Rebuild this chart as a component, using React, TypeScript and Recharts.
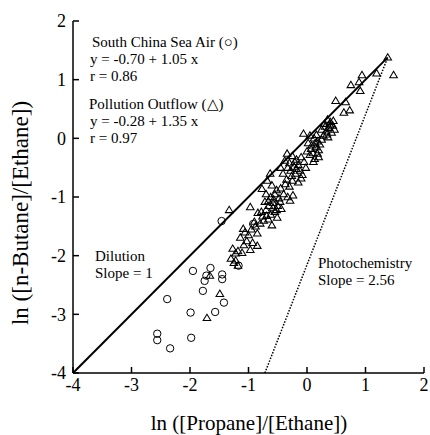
import React from 'react';
import {
  ScatterChart,
  Scatter,
  XAxis,
  YAxis,
  ReferenceLine,
  Customized,
} from 'recharts';

// ln([Propane]/[Ethane]) vs ln([n-Butane]/[Ethane])
const axisTicks = [-4, -3, -2, -1, 0, 1, 2];

// South China Sea Air (circles)
const southChinaSea = [
  { x: -1.46, y: -1.41 },
  { x: -0.92, y: -1.46 },
  { x: -1.95, y: -2.26 },
  { x: -1.65, y: -2.21 },
  { x: -1.72, y: -2.34 },
  { x: -1.75, y: -2.43 },
  { x: -1.45, y: -2.32 },
  { x: -1.45, y: -2.4 },
  { x: -1.17, y: -2.17 },
  { x: -1.78, y: -2.6 },
  { x: -2.39, y: -2.74 },
  { x: -1.42, y: -2.8 },
  { x: -1.99, y: -2.97 },
  { x: -1.57, y: -2.96 },
  { x: -2.56, y: -3.33 },
  { x: -2.56, y: -3.44 },
  { x: -1.98, y: -3.4 },
  { x: -2.34, y: -3.58 },
];

// Pollution Outflow (triangles)
const pollutionOutflow = [
  { x: 1.38, y: 1.38 }, { x: 1.48, y: 1.08 }, { x: 1.19, y: 1.11 }, { x: 0.94, y: 1.08 },
  { x: 0.75, y: 0.91 }, { x: 0.89, y: 0.96 }, { x: 0.91, y: 0.81 }, { x: 0.49, y: 0.64 },
  { x: 0.66, y: 0.62 }, { x: 0.63, y: 0.44 }, { x: 0.73, y: 0.48 },
  { x: 0.35, y: 0.32 }, { x: 0.4, y: 0.28 }, { x: 0.44, y: 0.22 }, { x: 0.38, y: 0.18 },
  { x: 0.47, y: 0.15 }, { x: 0.3, y: 0.25 }, { x: 0.33, y: 0.12 }, { x: 0.42, y: 0.1 },
  { x: 0.28, y: 0.05 }, { x: 0.36, y: 0.02 }, { x: 0.25, y: 0.15 }, { x: 0.45, y: 0.3 },
  { x: 0.31, y: 0.2 }, { x: 0.39, y: 0.24 }, { x: 0.34, y: 0.07 },
  { x: -0.06, y: 0.08 }, { x: 0.05, y: 0.05 }, { x: 0.12, y: 0.0 }, { x: 0.18, y: -0.05 },
  { x: 0.22, y: -0.1 }, { x: 0.15, y: -0.15 }, { x: 0.2, y: -0.2 }, { x: 0.1, y: -0.25 },
  { x: 0.08, y: -0.12 }, { x: 0.25, y: -0.02 }, { x: 0.16, y: 0.06 }, { x: 0.02, y: -0.08 },
  { x: 0.13, y: -0.35 }, { x: 0.2, y: -0.32 }, { x: 0.05, y: -0.28 }, { x: 0.0, y: -0.22 },
  { x: 0.14, y: -0.08 }, { x: 0.18, y: -0.26 }, { x: 0.07, y: -0.18 }, { x: 0.11, y: -0.4 },
  { x: -0.34, y: -0.26 }, { x: -0.25, y: -0.3 }, { x: -0.18, y: -0.36 }, { x: -0.1, y: -0.32 },
  { x: -0.15, y: -0.45 }, { x: -0.22, y: -0.48 }, { x: -0.05, y: -0.4 }, { x: -0.3, y: -0.42 },
  { x: -0.12, y: -0.55 }, { x: -0.2, y: -0.6 }, { x: -0.08, y: -0.62 }, { x: -0.28, y: -0.55 },
  { x: -0.41, y: -0.6 }, { x: -0.35, y: -0.7 }, { x: -0.25, y: -0.72 }, { x: -0.15, y: -0.75 },
  { x: -0.3, y: -0.82 }, { x: -0.45, y: -0.5 }, { x: -0.02, y: -0.5 }, { x: -0.38, y: -0.38 },
  { x: -0.18, y: -0.52 }, { x: -0.26, y: -0.64 }, { x: -0.33, y: -0.5 }, { x: -0.21, y: -0.4 },
  { x: -0.1, y: -0.68 }, { x: -0.37, y: -0.78 },
  { x: -0.63, y: -0.6 }, { x: -0.77, y: -0.86 },
  { x: -0.68, y: -0.72 }, { x: -0.6, y: -0.8 }, { x: -0.52, y: -0.88 }, { x: -0.45, y: -0.85 },
  { x: -0.55, y: -0.95 }, { x: -0.62, y: -1.0 }, { x: -0.48, y: -1.02 }, { x: -0.4, y: -0.95 },
  { x: -0.33, y: -1.0 }, { x: -0.29, y: -1.06 }, { x: -0.24, y: -0.97 }, { x: -0.7, y: -0.95 },
  { x: -0.58, y: -1.1 }, { x: -0.5, y: -1.15 }, { x: -0.65, y: -1.15 }, { x: -0.72, y: -1.08 },
  { x: -0.44, y: -1.2 }, { x: -0.55, y: -1.25 }, { x: -0.62, y: -1.3 }, { x: -0.7, y: -1.22 },
  { x: -0.78, y: -1.25 }, { x: -0.51, y: -1.35 }, { x: -0.84, y: -1.27 }, { x: -0.66, y: -1.38 },
  { x: -0.74, y: -1.4 }, { x: -0.8, y: -1.45 }, { x: -0.6, y: -1.48 },
  { x: -0.57, y: -1.04 }, { x: -0.66, y: -1.07 }, { x: -0.52, y: -1.22 }, { x: -0.69, y: -1.32 },
  { x: -0.58, y: -1.18 }, { x: -0.46, y: -1.08 }, { x: -0.76, y: -1.33 },
  { x: -0.97, y: -1.17 }, { x: -1.33, y: -1.22 }, { x: -0.88, y: -1.5 }, { x: -0.95, y: -1.55 },
  { x: -1.09, y: -1.54 }, { x: -0.85, y: -1.62 }, { x: -1.0, y: -1.65 }, { x: -1.14, y: -1.69 },
  { x: -1.03, y: -1.75 }, { x: -0.93, y: -1.78 }, { x: -0.85, y: -1.83 }, { x: -1.08, y: -1.82 },
  { x: -1.27, y: -1.88 }, { x: -1.18, y: -1.92 }, { x: -1.11, y: -1.95 }, { x: -0.97, y: -1.9 },
  { x: -1.22, y: -1.96 }, { x: -1.3, y: -2.05 }, { x: -1.22, y: -2.08 }, { x: -1.18, y: -2.17 },
  { x: -1.25, y: -2.12 }, { x: -0.9, y: -1.42 }, { x: -1.06, y: -1.6 },
  { x: -1.66, y: -2.34 }, { x: -1.49, y: -2.65 }, { x: -1.71, y: -3.06 },
];

// Dilution (slope 1) and photochemistry (slope 2.56) lines
const dilutionLine = [{ x: -4, y: -4 }, { x: 1.38, y: 1.38 }];
const photochemLine = [{ x: -0.72, y: -4 }, { x: 1.38, y: 1.38 }];

const FONT = '"Liberation Serif", "Times New Roman", serif';

const Circle = (props: any) => {
  const { cx, cy } = props;
  return <circle cx={cx} cy={cy} r={3.7} fill="none" stroke="#000" strokeWidth={1} />;
};

const Triangle = (props: any) => {
  const { cx, cy } = props;
  return (
    <path
      d={`M${cx},${cy - 3.7}L${cx + 3.8},${cy + 2.7}L${cx - 3.8},${cy + 2.7}Z`}
      fill="none"
      stroke="#000"
      strokeWidth={1.05}
    />
  );
};

const XTick = (props: any) => (
  <text x={props.x} y={props.y} dy="0.71em" textAnchor="middle" fontFamily={FONT} fontSize={18} fill="#000">
    {props.payload.value}
  </text>
);

const YTick = (props: any) => (
  <text x={props.x} y={props.y} dy="0.36em" textAnchor="end" fontFamily={FONT} fontSize={18} fill="#000">
    {props.payload.value}
  </text>
);

const Annotations = () => (
  <g fontFamily={FONT} fill="#000">
    <g fontSize={15}>
      <text x={92} y={47}>South China Sea Air (○)</text>
      <text x={90} y={64}>y = -0.70 + 1.05 x</text>
      <text x={90} y={81}>r = 0.86</text>
      <text x={89} y={109}>Pollution Outflow (△)</text>
      <text x={90} y={126}>y = -0.28 + 1.35 x</text>
      <text x={90} y={143}>r = 0.97</text>
      <text x={95} y={261}>Dilution</text>
      <text x={95} y={278}>Slope = 1</text>
      <text x={318} y={268}>Photochemistry</text>
      <text x={318} y={285}>Slope = 2.56</text>
    </g>
    <text x={249} y={430} fontSize={21} textAnchor="middle">
      ln ([Propane]/[Ethane])
    </text>
    <text x={28} y={213} fontSize={23} textAnchor="middle" transform="rotate(-90, 28, 213)">
      ln ([n-Butane]/[Ethane])
    </text>
  </g>
);

export default function App() {
  const frame = { stroke: '#000', strokeWidth: 1.5 };
  return (
    <div style={{ position: 'absolute', left: 0, top: 0, background: '#fff', fontFamily: FONT }}>
      <ScatterChart width={430} height={435} margin={{ top: 21, right: 6, bottom: 0, left: 0 }}>
        <XAxis
          type="number"
          dataKey="x"
          domain={[-4, 2]}
          ticks={axisTicks}
          height={62}
          tickSize={-6}
          tickMargin={11}
          tick={<XTick />}
          axisLine={frame}
          tickLine={frame}
          allowDataOverflow
        />
        <YAxis
          type="number"
          dataKey="y"
          domain={[-4, 2]}
          ticks={axisTicks}
          width={73}
          tickSize={-6}
          tickMargin={13}
          tick={<YTick />}
          axisLine={frame}
          tickLine={frame}
          allowDataOverflow
        />
        <XAxis
          xAxisId="top"
          orientation="top"
          type="number"
          dataKey="x"
          domain={[-4, 2]}
          ticks={axisTicks}
          height={0}
          tickSize={-6}
          tickFormatter={() => ''}
          axisLine={frame}
          tickLine={frame}
        />
        <YAxis
          yAxisId="right"
          orientation="right"
          type="number"
          dataKey="y"
          domain={[-4, 2]}
          ticks={axisTicks}
          width={0}
          tickSize={-6}
          tickFormatter={() => ''}
          axisLine={frame}
          tickLine={frame}
        />
        <ReferenceLine
          segment={dilutionLine}
          stroke="#000"
          strokeWidth={2}
          ifOverflow="visible"
        />
        <ReferenceLine
          segment={photochemLine}
          stroke="#000"
          strokeWidth={1.5}
          strokeDasharray="1.5 1.5"
          ifOverflow="visible"
        />
        <Scatter data={southChinaSea} shape={Circle} isAnimationActive={false} />
        <Scatter data={pollutionOutflow} shape={Triangle} isAnimationActive={false} />
        <Customized component={<Annotations />} />
      </ScatterChart>
    </div>
  );
}
